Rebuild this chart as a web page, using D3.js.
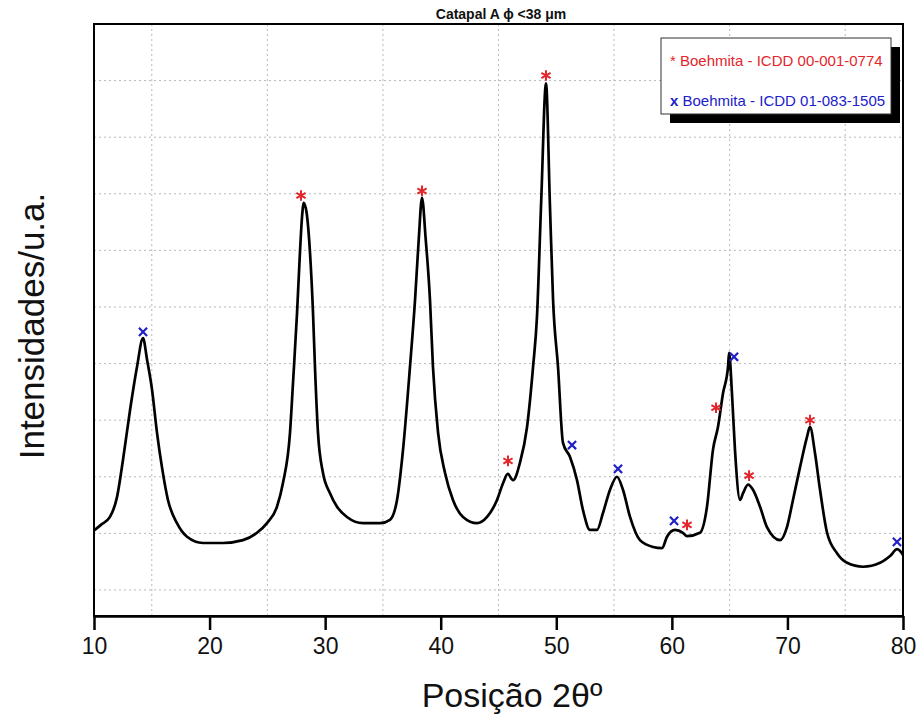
<!DOCTYPE html>
<html>
<head>
	<script src="https://cdn.jsdelivr.net/npm/d3@7"></script>
	<style>
		html, body {
			padding: 0;
			margin: 0;
			background: white;
		}
		text {
			font-family: "Liberation Sans", Arial, sans-serif;
		}
	</style>
</head>
<body>
	<script>
		var width = 921;
		var height = 724;

		// ~ ~ ~ DATA ~ ~ ~
		// diffractogram, 2theta (deg) and intensity (arbitrary counts)
		const twoTheta = [
			10.0, 10.6, 11.38, 11.99, 12.51, 13.12, 13.72, 14.24, 14.59, 15.02,
			15.45, 15.88, 16.4, 17.18, 18.05, 19.43, 21.16, 22.89, 24.1, 24.97,
			25.83, 26.35, 26.96, 27.22, 27.57, 27.82, 28.0, 28.15, 28.4, 28.69,
			28.95, 29.12, 29.38, 29.81, 30.42, 31.03, 31.89, 33.28, 34.75, 35.61,
			36.22, 36.74, 37.34, 37.78, 38.1, 38.38, 38.7, 39.07, 39.33, 39.77,
			40.37, 41.06, 41.93, 43.14, 44.01, 44.87, 45.4, 45.8, 46.26, 46.86,
			47.47, 47.99, 48.33, 48.7, 49.11, 49.45, 49.72, 50.15, 50.58, 51.19,
			51.79, 52.31, 52.92, 53.52, 54.04, 54.65, 55.25, 55.77, 56.38, 57.24,
			58.37, 59.15, 59.58, 60.27, 60.96, 61.31, 62.43, 63.04, 63.56, 63.99,
			64.43, 64.86, 64.95, 65.2, 65.46, 65.9, 66.16, 66.59, 67.02, 67.63,
			68.23, 69.36, 69.96, 70.48, 71.09, 71.69, 71.95, 72.39, 72.82, 73.43,
			74.29, 75.16, 76.54, 78.02, 78.88, 79.5, 80.0
		];
		const intensity = [
			205, 215, 229, 264, 330, 418, 494, 545, 507, 454,
			378, 317, 259, 218, 194, 183, 183, 188, 201, 218,
			247, 289, 378, 466, 590, 696, 759, 784, 766, 696,
			590, 494, 378, 307, 271, 247, 229, 218, 218, 224,
			259, 348, 494, 613, 720, 793, 720, 613, 494, 378,
			307, 259, 229, 218, 229, 259, 289, 305, 294, 325,
			388, 494, 583, 790, 995, 780, 613, 494, 360, 335,
			294, 241, 206, 206, 236, 277, 300, 277, 229, 188,
			176, 174, 194, 206, 201, 195, 201, 247, 348, 388,
			448, 494, 519, 448, 348, 259, 271, 286, 277, 247,
			211, 188, 211, 259, 317, 370, 388, 341, 277, 201,
			165, 148, 141, 148, 160, 172, 162
		];

		// reference peaks, marked on the pattern
		const boehmiteA_theta = [27.91, 38.38, 45.82, 49.11, 61.31, 63.82, 66.68, 71.95];
		const boehmiteA_int = [797, 805, 328, 1009, 215, 422, 302, 400];
		const boehmiteB_theta = [14.24, 51.36, 55.34, 60.19, 65.38, 79.48];
		const boehmiteB_int = [556, 356, 314, 222, 512, 185];

		const xTicks = [10, 20, 30, 40, 50, 60, 70, 80];
		const xGrid = [15, 25, 35, 45, 55, 65, 75];
		const yGrid = [100, 200, 300, 400, 500, 600, 700, 800, 900, 1000];

		const legendLabels = ["Boehmita - ICDD 00-001-0774", "Boehmita - ICDD 01-083-1505"];
		const TITLE = "Catapal A \u03d5 <38 \u03bcm";

		// ~ ~ ~ COLORS ~ ~ ~
		const RED = "#e3262b";
		const BLUE = "#2020c8";
		const GRID = "#b8b8b8";

		// ~ ~ ~ GEOMETRY ~ ~ ~
		const plot = { left: 94, right: 903, top: 24, bottom: 616 };

		var svg = d3.select("body").append("svg")
			.attr("width", width)
			.attr("height", height);

		var x = d3.scaleLinear().domain([10, 80]).range([plot.left, plot.right]);
		var y = d3.scaleLinear().domain([54, 1100]).range([plot.bottom, plot.top]);

		// grid
		svg.append("g").selectAll("line")
			.data(xGrid)
			.enter().append("line")
			.attr("x1", (d) => x(d)).attr("x2", (d) => x(d))
			.attr("y1", plot.top).attr("y2", plot.bottom)
			.attr("stroke", GRID)
			.attr("stroke-width", 1)
			.attr("stroke-dasharray", "2,3");

		svg.append("g").selectAll("line")
			.data(yGrid)
			.enter().append("line")
			.attr("x1", plot.left).attr("x2", plot.right)
			.attr("y1", (d) => y(d)).attr("y2", (d) => y(d))
			.attr("stroke", GRID)
			.attr("stroke-width", 1)
			.attr("stroke-dasharray", "2,3");

		// pattern
		var points = twoTheta.map((t, i) => [t, intensity[i]]);
		var line = d3.line()
			.x((d) => x(d[0]))
			.y((d) => y(d[1]))
			.curve(d3.curveMonotoneX);

		svg.append("path")
			.datum(points)
			.attr("d", line)
			.attr("fill", "none")
			.attr("stroke", "black")
			.attr("stroke-width", 2.7)
			.attr("stroke-linejoin", "round");

		// frame
		svg.append("rect")
			.attr("x", plot.left)
			.attr("y", plot.top)
			.attr("width", plot.right - plot.left)
			.attr("height", plot.bottom - plot.top)
			.attr("fill", "none")
			.attr("stroke", "black")
			.attr("stroke-width", 2);

		// x axis
		var xAxis = d3.axisBottom(x)
			.tickValues(xTicks)
			.tickSize(14)
			.tickSizeOuter(0)
			.tickPadding(8);

		var gx = svg.append("g")
			.attr("transform", "translate(0," + plot.bottom + ")")
			.call(xAxis);
		gx.select(".domain").attr("stroke-width", 2.5);
		gx.selectAll(".tick line").attr("stroke-width", 2.5);
		gx.selectAll(".tick text")
			.attr("font-size", 23)
			.attr("font-family", "Liberation Sans, Arial, sans-serif")
			.attr("fill", "#111");

		// markers
		var asterisk = d3.symbol().type(d3.symbolAsterisk).size(80);
		var cross = d3.symbol().type(d3.symbolTimes).size(45);

		svg.append("g").selectAll("path")
			.data(boehmiteA_theta.map((t, i) => [t, boehmiteA_int[i]]))
			.enter().append("path")
			.attr("d", asterisk)
			.attr("transform", (d) => "translate(" + x(d[0]) + "," + y(d[1]) + ")")
			.attr("fill", "none")
			.attr("stroke", RED)
			.attr("stroke-width", 2);

		svg.append("g").selectAll("path")
			.data(boehmiteB_theta.map((t, i) => [t, boehmiteB_int[i]]))
			.enter().append("path")
			.attr("d", cross)
			.attr("transform", (d) => "translate(" + x(d[0]) + "," + y(d[1]) + ")")
			.attr("fill", "none")
			.attr("stroke", BLUE)
			.attr("stroke-width", 2.2);

		// legend
		var legend = svg.append("g");
		legend.append("rect")
			.attr("x", 670).attr("y", 47)
			.attr("width", 230).attr("height", 76)
			.attr("fill", "black");
		legend.append("rect")
			.attr("x", 661).attr("y", 38)
			.attr("width", 230).attr("height", 76)
			.attr("fill", "white")
			.attr("stroke", "#333")
			.attr("stroke-width", 1);

		legend.append("text")
			.attr("x", 670).attr("y", 66)
			.attr("font-size", 15)
			.attr("fill", RED)
			.text("* " + legendLabels[0]);
		legend.append("text")
			.attr("x", 670).attr("y", 106)
			.attr("font-size", 15)
			.attr("fill", BLUE)
			.html("<tspan font-weight='bold'>x</tspan> " + legendLabels[1]);

		// titles
		svg.append("text")
			.attr("x", 501).attr("y", 19)
			.attr("text-anchor", "middle")
			.attr("font-size", 14)
			.attr("font-weight", "bold")
			.attr("fill", "#111")
			.text(TITLE);

		svg.append("text")
			.attr("x", 512).attr("y", 707)
			.attr("text-anchor", "middle")
			.attr("font-size", 34)
			.attr("fill", "#111")
			.text("Posi\u00e7\u00e3o 2\u03b8\u00ba");

		svg.append("text")
			.attr("transform", "translate(44,326) rotate(-90)")
			.attr("text-anchor", "middle")
			.attr("font-size", 35)
			.attr("fill", "#111")
			.text("Intensidades/u.a.");
	</script>
</body>
</html>
